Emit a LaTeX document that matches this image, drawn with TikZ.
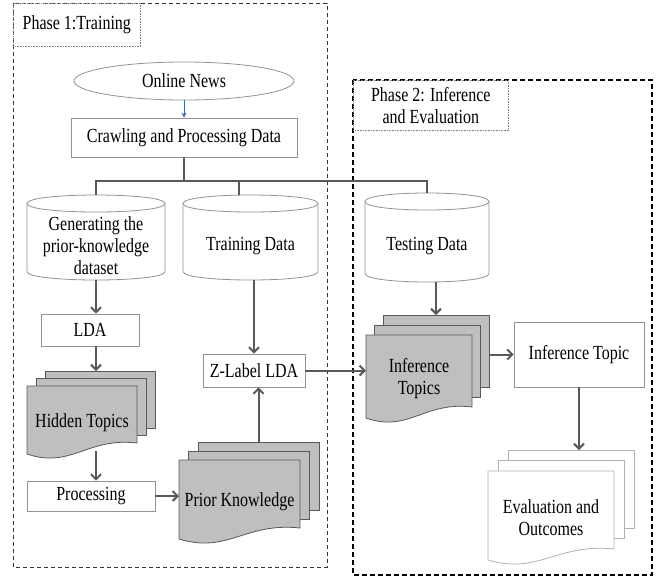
\documentclass[tikz,border=0pt]{standalone}
\usepackage{fontspec}
\setmainfont{Liberation Serif}[FakeStretch=0.8]
\usetikzlibrary{arrows.meta, shapes.geometric, positioning}
\definecolor{linegray}{HTML}{595959}
\definecolor{docgray}{HTML}{BFBFBF}
\definecolor{newsblue}{HTML}{3A6A9E}
\tikzset{
    procbox/.style={rectangle, draw=gray!85, fill=white, line width=0.8pt, inner sep=0pt, align=center},
    dbase/.style={draw=gray!85, fill=white, line width=0.8pt},
    docG/.style={draw=linegray, fill=docgray, line width=0.8pt},
    docW/.style={draw=gray!60, fill=white, line width=0.8pt},
    frameA/.style={draw=black!80, dash pattern=on 4pt off 3pt, line width=1pt},
    frameB/.style={draw=black, dash pattern=on 5pt off 3pt, line width=1.5pt},
    tag/.style={draw=gray, densely dotted, line width=0.6pt, inner sep=0pt, align=center},
    line/.style={-{Straight Barb[length=5pt,width=10pt]}, line width=2pt, linegray},
    bus/.style={line width=2pt, linegray}
}
% database cylinder: name, x-left, x-right, y-top, y-bottom, text
\newcommand{\database}[6]{%
    \draw[dbase] ({#2},{#4+8.5}) -- ({#2},{#5-8.5})
        .. controls ({#2},{#5+2.83}) and ({#3},{#5+2.83}) .. ({#3},{#5-8.5})
        -- ({#3},{#4+8.5})
        .. controls ({#3},{#4-2.83}) and ({#2},{#4-2.83}) .. cycle;
    \draw[dbase, fill=none] ({#2},{#4+8.5})
        .. controls ({#2},{#4+19.83}) and ({#3},{#4+19.83}) .. ({#3},{#4+8.5});
    \node (#1) at ({(#2+#3)/2},{(#4+#5)/2+8.5}) [align=center] {#6};
    \coordinate (#1-top) at ({(#2+#3)/2},{#4});
    \coordinate (#1-bot) at ({(#2+#3)/2},{#5});
}
% stack of pages: name, x, y, width, height, dx, dy, style, text
\newcommand{\docstack}[9]{%
    \draw[#8] ({#2+2*#6},{#3-2*#7}) rectangle ++(#4,#5);
    \draw[#8] ({#2+#6},{#3-#7}) rectangle ++(#4,#5);
    \draw[#8] ({#2},{#3}) -- ({#2+#4},{#3}) -- ({#2+#4},{#3+#5})
        .. controls ({#2+0.55*#4},{#3+#5-6}) and ({#2+0.4*#4},{#3+#5+26}) .. ({#2},{#3+#5+11})
        -- cycle;
    \node (#1) at ({#2+#4/2},{#3+#5/2+8}) [align=center] {#9};
    \coordinate (#1-back) at ({#2+2*#6+#4/2},{#3-2*#7});
    \coordinate (#1-left) at ({#2},{#3+#5/2});
    \coordinate (#1-right) at ({#2+#4+2*#6},{#3+#5/2});
    \coordinate (#1-bot) at ({#2+#4/2},{#3+#5+8});
}

\begin{document}
\begin{tikzpicture}[x=1pt, y=-1pt, font=\fontsize{20}{22}\selectfont]
    \useasboundingbox (0,0) rectangle (667,582);
    % the two phases
    \draw[frameA] (13,3) rectangle (327,567);
    \draw[frameB] (353,80) rectangle (652,575);
    \node[tag, anchor=north west, minimum width=127pt, minimum height=43pt] (tag1) at (13,3) {Phase 1:Training};
    \node[tag, anchor=north west, minimum width=155pt, minimum height=50pt] (tag2) at (353,80) {Phase 2: Inference\\and Evaluation};

    \node[ellipse, draw=gray!85, line width=0.8pt, minimum width=220pt, minimum height=38pt] (news) at (184,81) {Online News};
    \node[procbox, minimum width=226pt, minimum height=39pt] (crawl) at (184,137.5) {Crawling and Processing Data};
    \draw[-{Stealth[length=5pt,width=5pt]}, newsblue, line width=1pt] (news) -- (crawl);

    \database{gen}{27}{165}{195}{280}{Generating the\\prior-knowledge\\dataset}
    \database{train}{183}{318}{195}{280}{Training Data}
    \database{test}{365}{489}{193}{282}{Testing Data}

    % split the data
    \coordinate (bus) at (184,181);
    \draw[bus] (crawl.south) -- (bus);
    \draw[bus] (gen-top) -- (gen-top |- bus) -- (test-top |- bus) -- (test-top);
    \draw[bus] ([xshift=-12pt]train-top |- bus) -- ([xshift=-12pt]train-top);

    % phase 1
    \node[procbox, minimum width=98pt, minimum height=32pt] (lda) at (90,330) {LDA};
    \draw[line] (gen-bot) -- (gen-bot |- lda.north);
    \docstack{hid}{27}{386}{110}{57}{9}{7.5}{docG}{Hidden Topics}
    \draw[line] (gen-bot |- lda.south) -- (gen-bot |- hid-back);
    \node[procbox, minimum width=128pt, minimum height=30pt] (proc) at (91,496) {Processing};
    \draw[line] (gen-bot |- hid-bot) -- (gen-bot |- proc.north);
    \docstack{pk}{179}{460}{121}{68}{9.5}{9}{docG}{Prior Knowledge}
    \draw[line] (proc.east) -- (proc.east -| pk-left);
    \node[procbox, minimum width=102pt, minimum height=33pt] (zl) at (254,370.5) {Z-Label LDA};
    \draw[line] (pk-back) -- (pk-back |- zl.south);
    \draw[line] (zl.north |- train-bot) -- (zl.north);

    % phase 2
    \docstack{it}{366}{335}{106}{72}{8.5}{10}{docG}{Inference\\Topics}
    \draw[line] (zl.east) -- (zl.east -| it-left);
    \draw[line] (test-bot -| it-back) -- (it-back);
    \node[procbox, minimum width=130pt, minimum height=65pt] (itp) at (579,354.5) {Inference Topic};
    \draw[line] (itp.west -| it-right) -- (itp.west);
    \docstack{ev}{488}{471}{126}{78}{10}{10.5}{docW}{Evaluation and\\Outcomes}
    \draw[line] (itp.south) -- (itp.south |- ev-back);
\end{tikzpicture}
\end{document}
